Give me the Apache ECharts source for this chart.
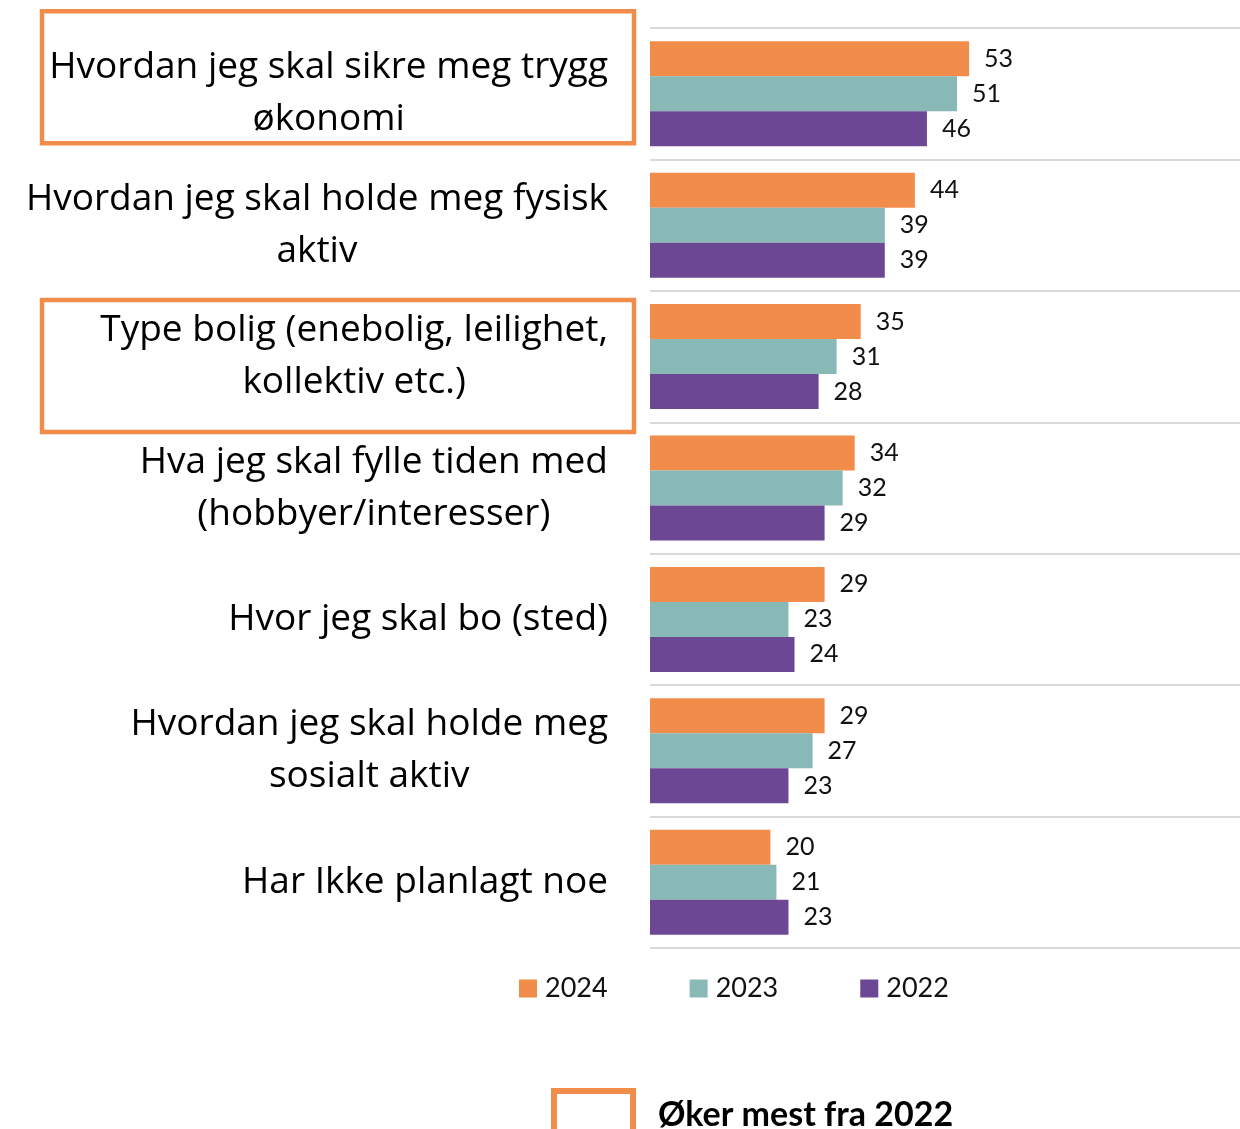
<!DOCTYPE html>
<html>
<head>
<meta charset="utf-8">
<script src="https://cdn.jsdelivr.net/npm/echarts@6/dist/echarts.min.js"></script>
<style>
  html, body { margin: 0; padding: 0; background: #ffffff; }
  #chart { width: 1240px; height: 1129px; }
</style>
</head>
<body>
<div id="chart"></div>
<script>
const categories = [
  "Hvordan jeg skal sikre meg trygg\nøkonomi",
  "Hvordan jeg skal holde meg fysisk\naktiv",
  "Type bolig (enebolig, leilighet,\nkollektiv etc.)",
  "Hva jeg skal fylle tiden med\n(hobbyer/interesser)",
  "Hvor jeg skal bo (sted)",
  "Hvordan jeg skal holde meg\nsosialt aktiv",
  "Har Ikke planlagt noe"
];
const seriesNames = ["2024", "2023", "2022"];
const values2024 = [53, 44, 35, 34, 29, 29, 20];
const values2023 = [51, 39, 31, 32, 23, 27, 21];
const values2022 = [46, 39, 28, 29, 24, 23, 23];
const highlighted = [0, 2];
const annotationText = "Øker mest fra 2022";

const colors = ["#F28C4B", "#88B9B7", "#6C4794"];
const FONT = "Lato";
const LABEL_FONT = "Open Sans";

const chart = echarts.init(document.getElementById('chart'), null, { renderer: 'canvas' });

function mkSeries(name, data, color) {
  return {
    name: name,
    type: 'bar',
    data: data,
    barWidth: 35,
    barGap: '0%',
    itemStyle: { color: color },
    label: {
      show: true,
      position: 'right',
      distance: 15,
      fontFamily: FONT,
      fontSize: 25,
      color: '#111111'
    },
    emphasis: { disabled: true },
    animation: false
  };
}

const option = {
  animation: false,
  textStyle: { fontFamily: FONT },
  grid: { left: 650, top: 28, right: 0, height: 920, containLabel: false },
  legend: {
    data: seriesNames,
    left: 519,
    top: 975,
    padding: 0,
    icon: 'rect',
    itemWidth: 18,
    itemHeight: 18,
    itemGap: 82,
    textStyle: { fontFamily: FONT, fontSize: 27, color: '#111111', padding: [0, 0, 0, 3] },
    selectedMode: false
  },
  xAxis: {
    type: 'value',
    min: 0,
    max: 98,
    show: false,
    splitLine: { show: false }
  },
  yAxis: {
    type: 'category',
    data: categories,
    inverse: true,
    axisLine: { show: false },
    axisTick: { show: false },
    splitLine: { show: true, lineStyle: { color: '#D9D9D9', width: 2 } },
    axisLabel: {
      margin: 42,
      align: 'right',
      formatter: function (v) {
        return v.split('\n').map(function (l) { return '{c|' + l + '}'; }).join('\n');
      },
      rich: {
        c: { align: 'center', fontFamily: LABEL_FONT, fontSize: 37, lineHeight: 52, color: '#000000' }
      }
    }
  },
  series: [
    mkSeries(seriesNames[0], values2024, colors[0]),
    mkSeries(seriesNames[1], values2023, colors[1]),
    mkSeries(seriesNames[2], values2022, colors[2])
  ]
};

chart.setOption(option);

// annotation graphics placed relative to the category axis
const boxOffsets = { 0: -82.5, 2: -56.5 };
const graphics = highlighted.map(function (idx) {
  const cy = chart.convertToPixel({ yAxisIndex: 0 }, categories[idx]);
  return {
    type: 'rect',
    shape: { x: 42, y: cy + boxOffsets[idx], width: 592, height: 132 },
    style: { fill: 'none', stroke: colors[0], lineWidth: 4.5 },
    silent: true
  };
});
graphics.push({
  type: 'rect',
  shape: { x: 554, y: 1091, width: 79, height: 60 },
  style: { fill: 'none', stroke: colors[0], lineWidth: 6 },
  silent: true
});
graphics.push({
  type: 'text',
  x: 658,
  y: 1115,
  style: {
    text: annotationText,
    font: 'bold 34px ' + FONT,
    fill: '#000000',
    textAlign: 'left',
    textVerticalAlign: 'middle'
  },
  silent: true
});
chart.setOption({ graphic: graphics });
</script>
</body>
</html>
